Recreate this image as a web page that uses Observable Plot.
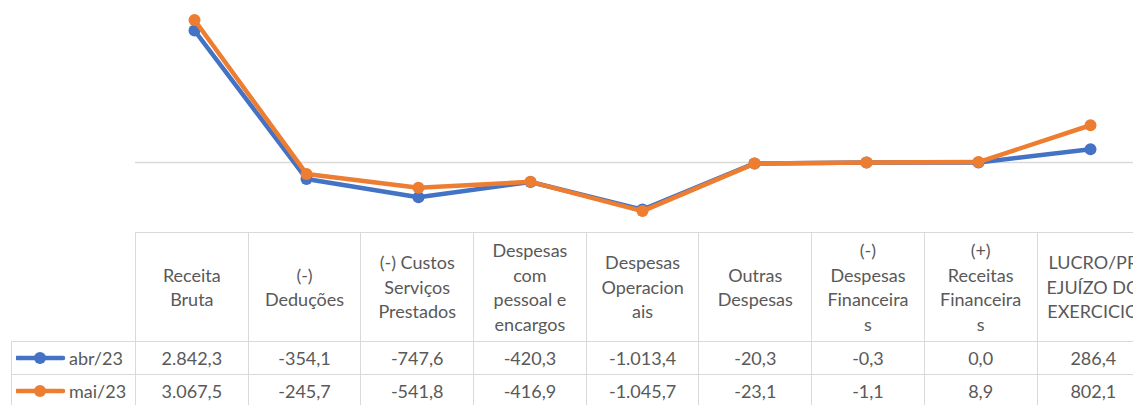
<!DOCTYPE html>
<html><head><meta charset="utf-8">
<script src="https://cdn.jsdelivr.net/npm/d3@7"></script>
<script src="https://cdn.jsdelivr.net/npm/@observablehq/plot@0.6"></script>
<style>
html,body{margin:0;padding:0;background:#fff;overflow:hidden;width:1133px;height:405px}
body{font-family:Lato,"Open Sans",sans-serif;color:#595959}
#chart svg{display:block}
table{border-collapse:collapse;table-layout:fixed;margin-left:11px;font-size:18px;color:#595959;width:1138px}
td,th{border:1.5px solid #d9d9d9;text-align:center;vertical-align:middle;padding:0;font-weight:normal;overflow:hidden;white-space:nowrap}
th{height:108px;line-height:24.5px}
td{height:32px;line-height:20px}
th.blank{border-top:none;border-left:none}
td.lab{text-align:left;padding-left:4px}
td.lab svg{vertical-align:middle;margin-right:1px;position:relative;top:-2px}
</style></head><body>
<div id="chart"></div>
<table id="tbl"></table>
<script>
const categories = [
  "Receita\nBruta",
  "(-)\nDeduções",
  "(-) Custos\nServiços\nPrestados",
  "Despesas\ncom\npessoal e\nencargos",
  "Despesas\nOperacion\nais",
  "Outras\nDespesas",
  "(-)\nDespesas\nFinanceira\ns",
  "(+)\nReceitas\nFinanceira\ns",
  "LUCRO/PR\nEJUÍZO DO\nEXERCICIO"
];
const series = ["abr/23", "mai/23"];
const abr = [2842.3, -354.1, -747.6, -420.3, -1013.4, -20.3, -0.3, 0.0, 286.4];
const mai = [3067.5, -245.7, -541.8, -416.9, -1045.7, -23.1, -1.1, 8.9, 802.1];
const colors = ["#4472C4", "#ED7D31"];

const valuesBySeries = [abr, mai];
const data = [];
series.forEach((s, i) => categories.forEach((c, j) => data.push({serie: s, cat: c, value: valuesBySeries[i][j]})));

const marks = [Plot.ruleY([0], {stroke: "#d9d9d9", strokeWidth: 1.5})];
series.forEach(s => {
  const d = data.filter(r => r.serie === s);
  marks.push(Plot.line(d, {x: "cat", y: "value", stroke: "serie", strokeWidth: 4.5, strokeLinejoin: "round", strokeLinecap: "round"}));
  marks.push(Plot.dot(d, {x: "cat", y: "value", fill: "serie", r: 6}));
});

const chart = Plot.plot({
  width: 1133, height: 232, margin: 0, marginLeft: 135,
  x: {type: "point", domain: categories, range: [191.4, 1093], padding: 0, axis: null},
  y: {domain: [0, 1000], range: [162, 162 - 46.44], axis: null},
  color: {domain: series, range: colors},
  marks
});
document.getElementById("chart").append(chart);

const fmt = d3.formatLocale({decimal: ",", thousands: ".", grouping: [3], currency: ["", ""], minus: "-"}).format(",.1f");
let html = "<colgroup><col style='width:124px'>" + categories.map(() => "<col style='width:112.7px'>").join("") + "</colgroup>";
html += "<tr><th class='blank'></th>" + categories.map(c => `<th>${c.split("\n").join("<br>")}</th>`).join("") + "</tr>";
series.forEach((s, i) => {
  const sw = `<svg width="52" height="14"><line x1="1" x2="47" y1="7" y2="7" stroke="${colors[i]}" stroke-width="4.5" stroke-linecap="round"/><circle cx="24" cy="7" r="6" fill="${colors[i]}"/></svg>`;
  html += `<tr><td class="lab">${sw}${s}</td>` + valuesBySeries[i].map(v => `<td>${fmt(v)}</td>`).join("") + "</tr>";
});
document.getElementById("tbl").innerHTML = html;
</script>
</body></html>
